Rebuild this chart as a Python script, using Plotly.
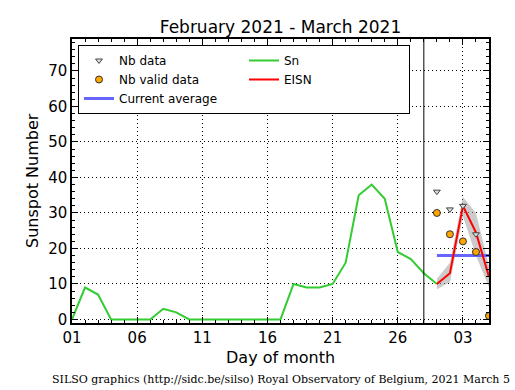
import plotly.graph_objects as go

# Data
sn_days = list(range(1, 30))
sn_vals = [0, 9, 7, 0, 0, 0, 0, 3, 2, 0, 0, 0, 0, 0, 0, 0, 0, 10, 9, 9, 10, 16, 35, 38, 34, 19, 17, 13, 10]

eisn_days = [29, 30, 31, 32, 33]
eisn_vals = [10, 13, 32, 24.5, 12]
eisn_low = [8.5, 10.5, 29, 18, 9]
eisn_high = [11.5, 16, 34.5, 30, 15]

nb_data = [36, 31, 32, 24, 1]
nb_valid = [30, 24, 22, 19, 1]

avg_days = [29, 33]
avg_vals = [18, 18]

month_boundary = 28

tick_days = [1, 6, 11, 16, 21, 26, 31]
tick_labels = ["01", "06", "11", "16", "21", "26", "03"]

W, H = 515, 390
L, R, T, B = 72, 26, 39, 67
PW, PH = W - L - R, H - T - B

fig = go.Figure()

# band
fig.add_trace(go.Scatter(x=eisn_days, y=eisn_low, mode="lines", line=dict(width=0, color="rgba(0,0,0,0)"),
                         showlegend=False, hoverinfo="skip"))
fig.add_trace(go.Scatter(x=eisn_days, y=eisn_high, mode="lines", line=dict(width=0, color="rgba(0,0,0,0)"),
                         fill="tonexty", fillcolor="rgba(160,160,160,0.55)", showlegend=False, hoverinfo="skip"))

fig.add_trace(go.Scatter(x=sn_days, y=sn_vals, mode="lines", name="Sn",
                         line=dict(color="#33cc33", width=2), legendrank=2))
fig.add_trace(go.Scatter(x=avg_days, y=avg_vals, mode="lines", name="Current average",
                         line=dict(color="#6666ff", width=3), legendrank=5))
fig.add_trace(go.Scatter(x=eisn_days, y=eisn_vals, mode="lines", name="EISN",
                         line=dict(color="red", width=2), legendrank=4))
fig.add_trace(go.Scatter(x=eisn_days, y=nb_data, mode="markers", name="Nb data",
                         marker=dict(symbol="triangle-down", size=6, color="#dddddd",
                                     line=dict(color="#444444", width=1)), legendrank=1))
fig.add_trace(go.Scatter(x=eisn_days, y=nb_valid, mode="markers", name="Nb valid data",
                         marker=dict(symbol="circle", size=7, color="orange",
                                     line=dict(color="#333333", width=1)), legendrank=3))

fig.add_shape(type="line", x0=month_boundary, x1=month_boundary, y0=0, y1=1, yref="y domain",
              line=dict(color="black", width=1))

axis_common = dict(showline=True, linecolor="black", linewidth=1.5, mirror="ticks",
                   ticks="inside", ticklen=6, tickcolor="black", tickwidth=1,
                   showgrid=True, gridcolor="black", griddash="1px,3px", gridwidth=1,
                   zeroline=False, automargin=False,
                   tickfont=dict(size=15, color="black", family="DejaVu Sans"))

fig.update_xaxes(range=[1, 33], tickvals=tick_days, ticktext=tick_labels,
                 minor=dict(dtick=1, tick0=1, ticks="inside", ticklen=3, tickcolor="black", showgrid=False),
                 **axis_common)
fig.update_yaxes(range=[-1, 79], tickvals=[0, 10, 20, 30, 40, 50, 60, 70],
                 minor=dict(dtick=2, tick0=0, ticks="inside", ticklen=3, tickcolor="black", showgrid=False),
                 **axis_common)

def px_x(x):
    return (x - L) / PW

def px_y(y):
    return (H - B - y) / PH

fig.update_layout(
    width=W, height=H,
    margin=dict(l=L, r=R, t=T, b=B, autoexpand=False),
    paper_bgcolor="white", plot_bgcolor="white",
    title=dict(text="February 2021 - March 2021", x=0.5, xanchor="center", xref="paper",
               y=1 - 27 / H, yanchor="middle", font=dict(size=17, color="black", family="DejaVu Sans")),
    legend=dict(orientation="h", x=px_x(78), y=px_y(45), xanchor="left", yanchor="top",
                bgcolor="white", bordercolor="black", borderwidth=1,
                entrywidth=120, entrywidthmode="pixels", traceorder="normal",
                font=dict(size=12, color="black", family="DejaVu Sans"), itemwidth=30),
    showlegend=True,
    annotations=[
        dict(text="SILSO graphics (http://sidc.be/silso) Royal Observatory of Belgium, 2021 March 5",
             x=0.5, xref="paper", xanchor="center", y=px_y(379), yref="paper", yanchor="middle",
             showarrow=False, font=dict(size=11, color="black", family="DejaVu Serif")),
        dict(text="Day of month", x=0.5, xref="paper", xanchor="center", y=px_y(357), yref="paper",
             yanchor="middle", showarrow=False, font=dict(size=16, color="black", family="DejaVu Sans")),
        dict(text="Sunspot Number", x=px_x(32), xref="paper", xanchor="center", y=0.5, yref="paper",
             yanchor="middle", textangle=-90, showarrow=False,
             font=dict(size=16, color="black", family="DejaVu Sans")),
    ],
)
fig.write_html("out.html", config={"displayModeBar": False},
               post_script="document.body.style.margin='0';document.body.style.padding='0';")
